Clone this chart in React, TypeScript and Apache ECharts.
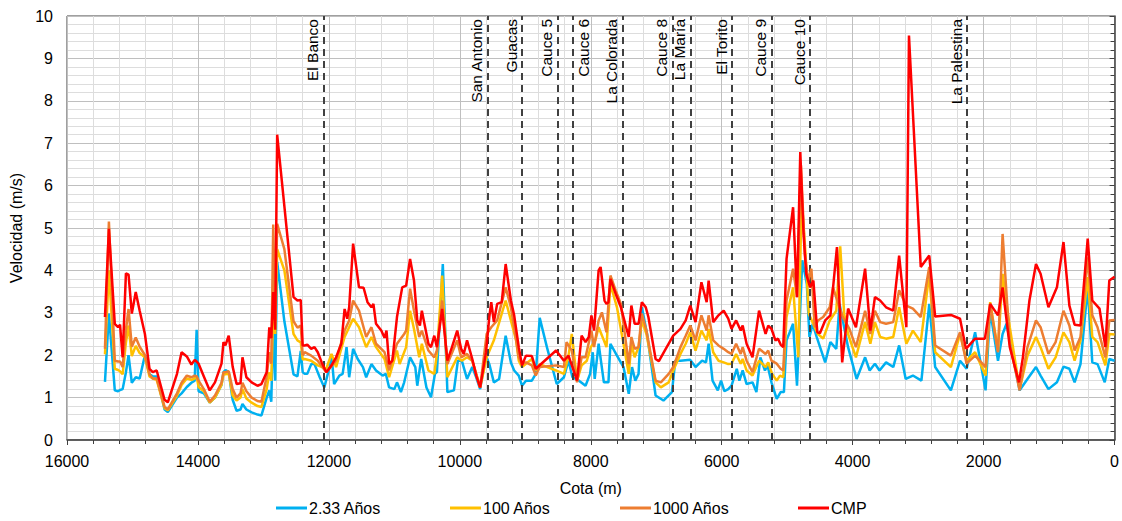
import React, { useEffect, useRef } from "react";
import * as echarts from "echarts";

// ---- Data (Cota in m, Velocidad in m/s) ----
const cotaCMP = [
  15420, 15360, 15270, 15220, 15190, 15150, 15100, 15060, 15010, 14950, 14890, 14810, 14740, 14690, 14630, 14510, 14460, 14320, 14250, 14170,
  14100, 14050, 14020, 13990, 13910, 13820, 13740, 13640, 13610, 13580, 13530, 13470, 13410, 13350, 13320, 13260, 13180, 13090, 13030, 12950,
  12910, 12880, 12850, 12820, 12790, 12540, 12480, 12430, 12400,
  12370, 12330, 12270, 12220, 12170, 12110, 12040, 11960, 11890, 11810, 11760, 11720, 11690, 11630, 11540, 11470, 11410, 11350, 11320, 11280,
  11200, 11150, 11120, 11080, 11030, 10960, 10880, 10820, 10760, 10700, 10650, 10610, 10580, 10480, 10440, 10390, 10350, 10270, 10190, 10120,
  10040, 9980, 9940, 9890, 9810, 9750, 9690, 9600, 9550, 9520, 9480, 9430, 9360, 9300, 9220, 9170, 9100,
  9050, 8990, 8900, 8840, 8530, 8410, 8340, 8210, 8140, 8080, 8030, 7990, 7950, 7880, 7850, 7790, 7760, 7730, 7700, 7620,
  7540, 7420, 7380, 7330, 7270, 7220, 7160, 7120, 7010, 6960, 6840, 6740, 6630, 6550, 6480, 6400, 6310, 6230, 6200, 6130,
  6050, 5970, 5900,
  5850, 5780, 5710, 5680, 5620, 5530, 5430, 5330, 5290, 5240, 5180, 5140, 5100, 5060, 5010, 4910, 4850, 4800, 4750, 4710,
  4650, 4600, 4540, 4500, 4420, 4340, 4240, 4160, 4070, 3950, 3810, 3730, 3660, 3580, 3490, 3380, 3290, 3180, 3140, 2960,
  2830, 2740, 2500, 2360, 2270, 2130, 1980, 1900, 1780, 1710, 1600, 1460, 1400, 1300, 1200, 1130, 1010, 880, 780, 690,
  610, 520, 410, 340, 230, 140, 80, 0,
];
const velCMP = [
  2.9, 4.98, 2.74, 2.66, 2.72, 1.95, 3.93, 3.9, 2.98, 3.49, 3.05, 2.5, 1.68, 1.6, 1.64, 0.95, 0.89, 1.56, 2.07, 1.97,
  1.78, 1.89, 1.85, 1.8, 1.5, 1.17, 1.36, 1.8, 2.31, 2.23, 2.46, 1.73, 1.32, 1.34, 1.95, 1.48, 1.36, 1.28, 1.32, 1.6,
  2.66, 2.4, 3.49, 2.6, 7.2, 3.37, 3.29, 3.3, 2.23,
  2.23, 2.25, 2.15, 2.19, 2.07, 1.83, 1.6, 1.76, 1.95, 2.27, 3.09, 2.86, 3.13, 4.63, 3.6, 3.59, 3.25, 3.13, 3.21, 2.74,
  2.58, 2.41, 2.58, 1.79, 1.87, 2.9, 3.6, 3.64, 4.27, 3.76, 2.82, 2.7, 3.05, 2.27, 2.19, 2.46, 2.19, 3.09, 1.87, 2.19,
  2.58, 2.15, 2.03, 2.35, 1.91, 1.52, 1.24, 2.07, 2.9, 3.25, 2.78, 3.21, 3.25, 4.15, 3.29, 2.94, 2.19,
  1.76, 1.99, 1.98, 1.68, 2.11, 1.87, 1.99, 1.4, 2.46, 2.31, 2.43, 2.94, 2.58, 4.0, 4.08, 3.29, 3.21, 3.25, 3.8, 3.45,
  3.13, 2.43, 3.17, 2.74, 2.74, 3.25, 3.13, 2.9, 1.91, 1.86, 2.19, 2.46, 2.62, 2.82, 3.17, 2.78, 3.72, 3.25, 3.76, 2.78,
  2.94, 3.05, 2.86,
  2.62, 2.82, 2.58, 2.7, 2.27, 1.95, 3.05, 2.5, 2.7, 2.62, 2.35, 2.39, 2.25, 2.19, 4.27, 5.49, 3.37, 6.79, 4.86, 3.92,
  3.6, 3.76, 2.54, 2.52, 2.82, 2.94, 4.55, 1.83, 3.1, 2.66, 4.04, 2.58, 3.37, 3.29, 3.13, 3.05, 4.35, 2.66, 9.54, 4.08,
  4.35, 2.91, 2.95, 2.86, 2.15, 2.39, 2.39, 3.21, 2.94, 3.6, 2.19, 1.36, 1.95, 3.29, 4.15, 3.92, 3.13, 3.6, 4.67, 3.17,
  2.72, 2.7, 4.75, 3.29, 3.1, 2.19, 3.76, 3.85,
];

const cota1000 = [
  15420, 15360, 15270, 15220, 15190, 15150, 15100, 15060, 15010, 14950, 14890, 14810, 14740, 14690, 14630, 14510, 14460, 14320, 14250, 14170,
  14100, 14050, 14020, 13990, 13910, 13820, 13740, 13640, 13610, 13580, 13530, 13470, 13410, 13350, 13320, 13260, 13180, 13090, 13030, 12950,
  12910, 12880, 12850, 12820, 12790, 12680, 12540, 12480, 12430, 12400,
  12370, 12270, 12170, 12040, 11890, 11760, 11690, 11630, 11540, 11430, 11350, 11280, 11150, 11080, 10960, 10850, 10820, 10760, 10700, 10620,
  10580, 10480, 10390, 10350, 10270, 10190, 10040, 9980, 9890, 9810, 9690, 9590, 9520, 9430, 9300, 9220, 9140, 9100,
  9050, 8990, 8900, 8840, 8780, 8530, 8410, 8370, 8290, 8210, 8140, 8080, 7990, 7950, 7880, 7830, 7760, 7700, 7620, 7540,
  7420, 7380, 7330, 7270, 7220, 7150, 7010, 6930, 6810, 6740, 6630, 6550, 6480, 6400, 6310, 6230, 6200, 6130, 6050, 5970, 5900,
  5850, 5780, 5710, 5680, 5620, 5530, 5430, 5330, 5290, 5240, 5160, 5100, 5060, 5010, 4910, 4850, 4790, 4730, 4680, 4630,
  4580, 4530, 4450, 4350, 4300, 4220, 4150, 4050, 3950, 3810, 3730, 3660, 3580, 3490, 3380, 3290, 3180, 3080, 2960,
  2830, 2740, 2500, 2360, 2260, 2130, 1970, 1900, 1780, 1710, 1600, 1450, 1330, 1200, 1130, 1010, 900, 780, 690, 610,
  520, 410, 340, 260, 140, 80, 0,
];
const vel1000 = [
  2.15, 5.15, 1.87, 1.85, 1.85, 1.72, 2.6, 3.09, 2.2, 2.42, 2.2, 2.0, 1.55, 1.45, 1.45, 0.78, 0.72, 1.1, 1.35, 1.52,
  1.48, 1.52, 1.5, 1.4, 1.2, 0.9, 1.05, 1.35, 1.6, 1.6, 1.62, 1.2, 1.0, 1.1, 1.35, 1.15, 1.0, 0.92, 0.9, 1.5,
  2.07, 1.8, 5.08, 2.8, 5.1, 4.5, 2.8, 2.65, 2.7, 2.0,
  2.07, 1.99, 1.87, 1.6, 1.87, 2.58, 2.82, 3.29, 3.05, 2.43, 2.66, 2.27, 2.07, 1.64, 2.27, 2.5, 2.58, 3.57, 3.05, 2.43,
  2.58, 2.11, 1.95, 2.11, 3.29, 1.79, 2.35, 1.95, 2.03, 1.87, 1.24, 2.5, 2.66, 2.82, 3.6, 3.13, 2.35, 1.95,
  1.79, 1.83, 1.76, 1.52, 1.72, 1.76, 1.72, 2.31, 2.11, 1.36, 1.95, 1.95, 2.58, 2.19, 2.82, 3.01, 2.54, 3.88, 3.53, 3.21,
  1.79, 2.43, 2.15, 2.19, 2.98, 2.58, 1.4, 1.36, 1.56, 1.72, 2.19, 2.46, 2.7, 2.35, 2.94, 2.58, 2.94, 2.35, 2.23, 2.15, 2.07,
  2.03, 2.27, 2.03, 2.19, 1.87, 1.6, 2.15, 2.03, 2.11, 1.87, 1.8, 1.68, 1.64, 3.29, 4.04, 3.37, 6.48, 4.39, 3.76, 4.04,
  2.66, 2.82, 2.9, 3.13, 3.6, 3.21, 2.9, 2.62, 2.19, 3.05, 2.5, 3.05, 2.78, 2.74, 2.78, 3.53, 3.17, 3.1, 2.9,
  4.08, 2.23, 1.99, 2.54, 1.8, 1.99, 1.72, 3.21, 2.07, 4.86, 2.27, 1.17, 2.19, 2.82, 2.66, 2.03, 2.31, 3.05, 2.7, 2.11,
  2.43, 4.31, 2.94, 2.66, 1.95, 2.82, 2.83,
];

const cota100 = [
  15420, 15360, 15270, 15220, 15190, 15150, 15100, 15060, 15010, 14950, 14890, 14810, 14740, 14690, 14630, 14510, 14460, 14320, 14250, 14170,
  14100, 14050, 14020, 13990, 13910, 13820, 13740, 13640, 13610, 13580, 13530, 13470, 13410, 13350, 13320, 13260, 13180, 13090, 13030, 12950,
  12910, 12880, 12850, 12820, 12790, 12680, 12540, 12480, 12430, 12400,
  12370, 12270, 12170, 12040, 11960, 11890, 11760, 11630, 11540, 11430, 11350, 11280, 11150, 11080, 10960, 10920, 10820, 10760, 10700, 10620,
  10580, 10480, 10390, 10350, 10270, 10190, 10040, 9970, 9890, 9810, 9690, 9590, 9480, 9300, 9220, 9140,
  9100, 9050, 8900, 8840, 8780, 8530, 8410, 8340, 8290, 8210, 8140, 8060, 8000, 7930, 7880, 7800, 7760, 7700, 7600, 7500,
  7420, 7380, 7330, 7270, 7220, 7150, 7010, 6930, 6810, 6740, 6630, 6550, 6480, 6400, 6310, 6230, 6200, 6130, 6050, 5970, 5900,
  5850, 5780, 5710, 5680, 5620, 5530, 5430, 5330, 5290, 5230, 5160, 5110, 5060, 5010, 4910, 4830, 4780, 4720, 4670, 4580,
  4530, 4450, 4350, 4250, 4190, 4130, 4070, 3950, 3810, 3730, 3660, 3580, 3490, 3380, 3290, 3180, 3080, 2960,
  2830, 2740, 2500, 2360, 2260, 2130, 1970, 1900, 1780, 1710, 1600, 1450, 1330, 1200, 1130, 1010, 900, 780, 690, 610,
  520, 410, 340, 260, 140, 80, 0,
];
const vel100 = [
  2.02, 4.0, 1.68, 1.65, 1.62, 1.55, 2.3, 2.7, 1.98, 2.22, 2.05, 1.95, 1.5, 1.45, 1.42, 0.75, 0.7, 1.05, 1.3, 1.45,
  1.42, 1.45, 1.5, 1.25, 1.15, 0.88, 1.0, 1.3, 1.55, 1.55, 1.57, 1.05, 0.93, 1.0, 1.2, 0.98, 0.88, 0.8, 0.78, 1.2,
  1.6, 1.4, 3.0, 2.5, 4.5, 4.0, 2.5, 2.35, 2.3, 1.9,
  1.91, 1.87, 1.76, 1.68, 2.03, 1.72, 2.43, 2.86, 2.66, 2.19, 2.43, 2.19, 1.91, 1.48, 2.11, 1.79, 2.19, 3.05, 2.62, 1.95,
  2.27, 1.64, 1.56, 2.03, 3.88, 1.48, 1.95, 1.87, 1.95, 1.87, 1.24, 1.95, 2.35, 3.29, 2.82, 2.35,
  1.87, 1.72, 1.91, 1.64, 1.79, 1.64, 1.56, 1.99, 2.5, 1.4, 1.76, 1.87, 2.19, 2.35, 2.66, 2.35, 2.19, 3.68, 3.13, 2.27,
  1.56, 2.27, 1.95, 2.19, 2.82, 2.5, 1.36, 1.24, 1.36, 1.64, 2.03, 2.27, 2.54, 2.11, 2.58, 2.35, 2.62, 2.07, 1.87, 1.83, 1.79,
  1.8, 2.03, 1.8, 1.91, 1.64, 1.52, 1.87, 1.72, 1.83, 1.56, 1.4, 1.52, 1.48, 2.9, 3.6, 1.95, 5.73, 4.39, 2.98, 2.66,
  2.5, 2.39, 2.82, 3.05, 4.57, 2.98, 2.5, 1.95, 2.78, 2.27, 2.78, 2.43, 2.39, 2.43, 3.13, 2.27, 2.58, 2.31,
  3.92, 2.07, 1.72, 2.5, 1.87, 2.07, 1.52, 3.25, 2.11, 3.92, 2.66, 1.2, 1.99, 2.43, 2.19, 1.68, 1.95, 2.54, 2.31, 1.87,
  2.35, 3.84, 2.43, 2.31, 1.76, 2.5, 2.49,
];

const cota233 = [
  15420, 15360, 15270, 15220, 15190, 15150, 15100, 15060, 15010, 14950, 14890, 14810, 14740, 14690, 14630, 14510, 14460, 14320, 14250, 14170,
  14100, 14050, 14020, 13990, 13910, 13820, 13740, 13640, 13610, 13580, 13530, 13470, 13410, 13350, 13320, 13260, 13180, 13090, 13030, 12950,
  12910, 12880, 12850, 12820, 12790, 12680, 12540, 12480, 12430, 12400,
  12370, 12330, 12270, 12220, 12140, 12070, 11990, 11960, 11920, 11840, 11790, 11730, 11690, 11630, 11560, 11480, 11430, 11350, 11280, 11180,
  11130, 11080, 11000, 10960, 10900, 10850, 10760, 10680, 10650, 10590, 10510, 10440, 10380, 10350, 10260, 10190, 10090, 10030, 9970, 9890,
  9810, 9750, 9690, 9600, 9550, 9480, 9400, 9300, 9220, 9170, 9100,
  9050, 8990, 8900, 8840, 8780, 8670, 8520, 8410, 8340, 8280, 8180, 8080, 8010, 7970, 7940, 7880, 7800, 7730, 7700, 7600,
  7500, 7420, 7370, 7320, 7270, 7220, 7140, 7010, 6890, 6760, 6710, 6630, 6480, 6400, 6300, 6240, 6200, 6140, 6060, 6010,
  5960, 5900,
  5850, 5770, 5730, 5680, 5620, 5530, 5470, 5410, 5340, 5300, 5240, 5160, 5100, 5050, 5010, 4910, 4850, 4770, 4700, 4660,
  4610, 4550, 4420, 4340, 4250, 4200, 4070, 3940, 3810, 3740, 3660, 3590, 3490, 3380, 3290, 3190, 3080, 2950,
  2830, 2740, 2500, 2360, 2260, 2130, 1970, 1900, 1780, 1710, 1650, 1450, 1330, 1200, 1130, 1010, 880, 780, 690, 610,
  520, 410, 340, 260, 150, 80, 0,
];
const vel233 = [
  1.37, 2.98, 1.17, 1.15, 1.18, 1.2, 1.6, 2.0, 1.35, 1.48, 1.45, 2.0, 1.55, 1.5, 1.5, 0.72, 0.66, 1.0, 1.1, 1.25,
  1.35, 1.4, 2.6, 1.15, 1.1, 0.88, 1.0, 1.3, 1.6, 1.65, 1.6, 0.95, 0.69, 0.72, 0.85, 0.72, 0.65, 0.6, 0.58, 1.0,
  1.17, 0.9, 2.74, 1.4, 4.2, 2.8, 1.55, 1.5, 2.1, 1.6,
  1.56, 1.56, 1.79, 1.79, 1.48, 1.24, 1.72, 2.0, 1.32, 1.52, 1.56, 2.19, 1.48, 2.15, 1.91, 1.72, 1.48, 1.79, 1.64, 1.52,
  1.56, 1.24, 1.2, 1.36, 1.13, 1.36, 1.95, 1.72, 1.28, 1.91, 1.24, 1.01, 1.56, 1.6, 4.15, 1.13, 1.17, 1.87, 1.87, 1.44,
  1.72, 1.48, 1.2, 1.99, 1.79, 1.36, 1.44, 2.46, 1.83, 1.64, 1.52,
  1.28, 1.4, 1.4, 1.56, 2.88, 2.19, 1.32, 1.48, 1.87, 1.48, 1.4, 1.28, 1.56, 2.07, 1.44, 2.27, 1.36, 1.36, 2.27, 1.99,
  1.72, 1.09, 1.72, 1.4, 1.56, 3.13, 2.5, 1.05, 0.93, 1.13, 1.87, 1.87, 1.89, 1.72, 1.87, 1.83, 2.27, 1.4, 1.17, 1.4,
  1.15, 1.2,
  1.28, 1.68, 1.4, 1.64, 1.32, 1.36, 1.13, 1.95, 1.64, 1.76, 1.36, 0.97, 1.13, 1.13, 2.35, 2.74, 1.28, 4.24, 3.68, 2.43,
  2.74, 2.43, 1.83, 2.31, 2.15, 3.21, 2.19, 1.44, 1.95, 1.64, 1.8, 1.64, 1.83, 1.72, 2.23, 1.44, 1.52, 1.4,
  3.21, 1.72, 1.17, 1.87, 1.68, 2.54, 1.17, 3.05, 1.87, 2.5, 2.74, 1.17, 1.44, 1.72, 1.52, 1.2, 1.36, 1.73, 1.68, 1.36,
  1.79, 3.6, 1.83, 1.79, 1.36, 1.91, 1.87,
];

const markerNames = [
  "El Banco", "San Antonio", "Guacas", "Cauce 5", "Cauce 6", "La Colorada",
  "Cauce 8", "La María", "El Torito", "Cauce 9", "Cauce 10", "La Palestina",
];
const markerCota = [12080, 9570, 9050, 8510, 8280, 7510, 6750, 6470, 5840, 5240, 4650, 2250];
// label side relative to the line: "left" or "right"
const markerSide = ["left", "left", "left", "left", "right", "left", "left", "left", "left", "left", "left", "left"];

const seriesNames = ["2.33 Años", "100 Años", "1000 Años", "CMP"];
const seriesColors = ["#00B0F0", "#FFC000", "#ED7D31", "#FF0000"];
const legendLeft = [276, 450, 620, 798];

export default function App() {
  const ref = useRef<HTMLDivElement>(null);
  useEffect(() => {
    const chart = echarts.init(ref.current as HTMLDivElement, null, { renderer: "svg" });
    const font = "'Liberation Sans', Arial, sans-serif";
    const zip = (c: number[], v: number[]) => c.map((x, i) => [x, v[i]]);
    const data = [zip(cota233, vel233), zip(cota100, vel100), zip(cota1000, vel1000), zip(cotaCMP, velCMP)];
    const axisColor = "#404040";
    const fs = 16;
    chart.setOption({
      animation: false,
      backgroundColor: "#ffffff",
      textStyle: { fontFamily: font },
      grid: { left: 67, right: 5, top: 16, bottom: 81, show: true, borderColor: axisColor, borderWidth: 1, backgroundColor: "transparent" },
      legend: seriesNames.map((n, i) => ({
        data: [n],
        left: legendLeft[i],
        top: 500,
        padding: 0,
        icon: "rect",
        itemWidth: 31,
        itemHeight: 3,
        textStyle: { fontSize: fs, color: "#000", fontFamily: font, padding: [0, 0, 0, -3] },
      })),
      xAxis: {
        type: "value",
        inverse: true,
        min: 0,
        max: 16000,
        interval: 2000,
        name: "Cota (m)",
        nameLocation: "middle",
        nameGap: 40,
        nameTextStyle: { fontSize: fs, color: "#000", fontFamily: font },
        axisLine: { show: true, onZero: false, lineStyle: { color: axisColor, width: 1.5 } },
        axisTick: { show: true, length: 5, lineStyle: { color: axisColor } },
        minorTick: { show: true, splitNumber: 5, length: 4, lineStyle: { color: axisColor } },
        splitLine: { show: true, lineStyle: { color: "#BFBFBF", width: 1 } },
        minorSplitLine: { show: true, lineStyle: { color: "#DDDDDD", width: 1 } },
        axisLabel: { fontSize: fs, color: "#000", margin: 13, fontFamily: font, formatter: (v: number) => String(v) },
      },
      yAxis: {
        type: "value",
        min: 0,
        max: 10,
        interval: 1,
        name: "Velocidad (m/s)",
        nameLocation: "middle",
        nameGap: 41,
        nameTextStyle: { fontSize: fs, color: "#000", fontFamily: font },
        axisLine: { show: true, lineStyle: { color: axisColor, width: 1.5 } },
        axisTick: { show: true, length: 5, lineStyle: { color: axisColor } },
        minorTick: { show: true, splitNumber: 5, length: 4, lineStyle: { color: axisColor } },
        splitLine: { show: true, lineStyle: { color: "#BFBFBF", width: 1 } },
        minorSplitLine: { show: true, lineStyle: { color: "#DDDDDD", width: 1 } },
        axisLabel: { fontSize: fs, color: "#000", margin: 14, fontFamily: font },
      },
      series: [
        {
          name: "markers",
          type: "line",
          data: [],
          silent: true,
          markLine: {
            silent: true,
            symbol: ["none", "none"],
            lineStyle: { color: axisColor, width: 2, type: [7, 5] },
            label: {
              show: true,
              position: "insideEndTop",
              formatter: "{b}",
              fontSize: 15.5,
              color: "#000",
              fontFamily: font,
              distance: 3,
            },
            data: markerNames.map((n, i) => ({
              name: n,
              xAxis: markerCota[i],
              label: { position: markerSide[i] === "right" ? "insideEndBottom" : "insideEndTop" },
            })),
          },
        },
        ...seriesNames.map((n, i) => ({
          name: n,
          type: "line",
          data: data[i],
          showSymbol: false,
          symbol: "none",
          lineStyle: { color: seriesColors[i], width: 2.5 },
          itemStyle: { color: seriesColors[i] },
          z: 3 + i,
        })),
      ],
    });
    return () => chart.dispose();
  }, []);
  return <div ref={ref} style={{ position: "fixed", left: 0, top: 0, width: 1122, height: 521 }} />;
}
